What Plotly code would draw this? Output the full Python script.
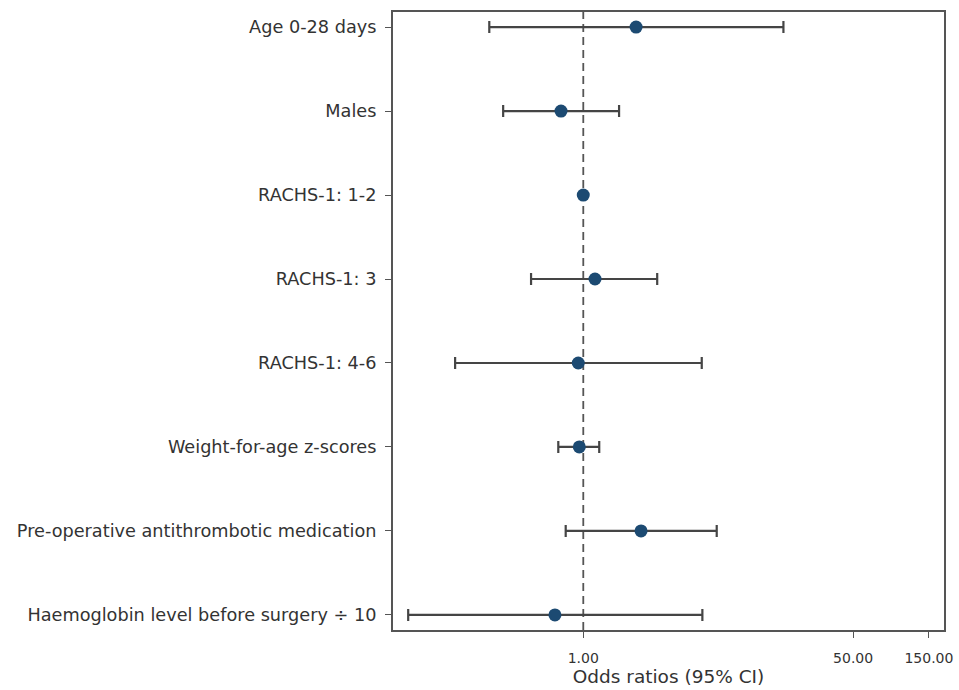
import plotly.graph_objects as go

labels = [
    "Age 0-28 days",
    "Males",
    "RACHS-1: 1-2",
    "RACHS-1: 3",
    "RACHS-1: 4-6",
    "Weight-for-age z-scores",
    "Pre-operative antithrombotic medication",
    "Haemoglobin level before surgery \u00f7 10",
]
odds = [2.15, 0.724, 1.0, 1.185, 0.93, 0.944, 2.31, 0.663]
ci_low = [0.256, 0.313, None, 0.469, 0.156, 0.696, 0.775, 0.079]
ci_high = [18.2, 1.68, None, 2.92, 5.57, 1.26, 6.92, 5.62]
tick_vals = [1, 50, 150]
tick_text = ["1.00", "50.00", "150.00"]

rows = list(range(1, len(labels) + 1))
err_plus = [None if h is None else h - o for o, h in zip(odds, ci_high)]
err_minus = [None if l is None else o - l for o, l in zip(odds, ci_low)]

fig = go.Figure()
fig.add_trace(go.Scatter(
    x=odds, y=rows, mode="markers",
    marker=dict(size=13, color="#1c4a72"),
    error_x=dict(type="data", symmetric=False, array=err_plus, arrayminus=err_minus,
                 color="#454545", thickness=2.2, width=6),
    showlegend=False,
))
fig.add_vline(x=1, line=dict(color="#555555", width=1.8, dash="8px,5px"), layer="below")

fig.update_layout(
    width=959, height=690,
    margin=dict(l=393, r=15, t=12, b=60),
    paper_bgcolor="white", plot_bgcolor="white",
    font=dict(family="DejaVu Sans, sans-serif", size=15, color="#333333"),
    xaxis=dict(
        type="log", range=[-1.198, 2.271],
        tickvals=tick_vals, ticktext=tick_text,
        ticks="outside", ticklen=6, tickcolor="#555555",
        ticklabelstandoff=8, automargin=False,
        showgrid=False, zeroline=False,
        showline=True, linecolor="#555555", linewidth=2, mirror=True,
        title=dict(text="Odds ratios (95% CI)", standoff=2, font=dict(size=18.5)),
        tickfont=dict(size=14),
    ),
    yaxis=dict(
        range=[8.18, 0.82],
        tickvals=rows, ticktext=labels,
        ticks="outside", ticklen=6, tickcolor="#555555",
        ticklabelstandoff=5, automargin=False,
        showgrid=False, zeroline=False,
        showline=True, linecolor="#555555", linewidth=2, mirror=True,
        tickfont=dict(size=17.7),
    ),
)
fig.write_html("out.html")
